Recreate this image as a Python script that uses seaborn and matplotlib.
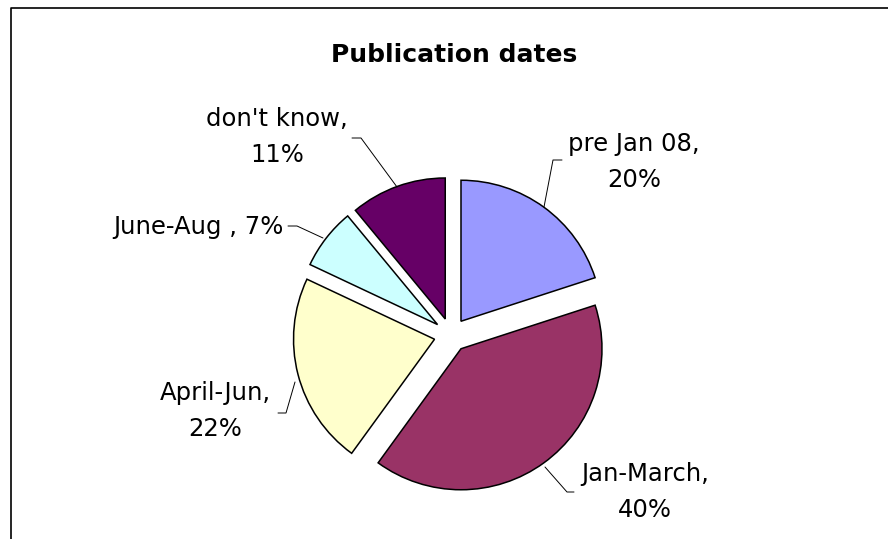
import matplotlib
matplotlib.use("Agg")
import matplotlib.pyplot as plt
import seaborn as sns

# ---- data ----
categories = ["pre Jan 08", "Jan-March", "April-Jun", "June-Aug ", "don't know"]
values = [20, 40, 22, 7, 11]
colors = ["#9999FF", "#993366", "#FFFFCC", "#CCFFFF", "#660066"]
title = "Publication dates"

sns.set_theme(style="white")
plt.rcParams["font.family"] = ["DejaVu Sans"]

W, H = 888, 539
fig = plt.figure(figsize=(W / 100, H / 100), dpi=100)
ax = fig.add_axes([0, 0, 1, 1])
ax.set_xlim(0, W)
ax.set_ylim(0, H)
ax.axis("off")

def Y(y):  # screen y -> data y
    return H - y

cx, cy, R = 451, Y(335), 141
# explode in matplotlib is in data units (radius-relative only when radius=1)
wedges, _ = ax.pie(values, colors=colors, startangle=90, counterclock=False,
                   explode=[17] * len(values), center=(cx, cy), radius=R,
                   wedgeprops=dict(edgecolor="black", linewidth=1.1),
                   frame=True)
ax.set_xlim(0, W)
ax.set_ylim(0, H)
ax.set_aspect("equal")
ax.axis("off")

# frame (only top/left visible in the crop)
ax.plot([11, 11, W + 5], [Y(H + 5), Y(8), Y(8)], color="black", lw=1.2,
        solid_capstyle="butt", clip_on=False)

ax.text(454, Y(55), title, ha="center", va="center", fontsize=18,
        fontweight="bold", color="black")

# labels: (x, y of block center) and leader polylines, in screen pixels
label_layout = {
    "pre Jan 08": ((634, 162), [(562, 160), (553, 160), (544, 207)]),
    "Jan-March": ((645, 492), [(574, 492), (567, 492), (545, 467)]),
    "April-Jun": ((215, 411), [(278, 413), (286, 413), (295, 382)]),
    "June-Aug ": ((198, 227), [(288, 226), (297, 226), (323, 238)]),
    "don't know": ((277, 137), [(352, 138), (361, 138), (397, 187)]),
}

for cat, val in zip(categories, values):
    (tx, ty), pts = label_layout[cat]
    if cat.startswith("June"):
        txt = f"{cat}, {val}%"
    else:
        txt = f"{cat},\n{val}%"
    ax.text(tx, Y(ty), txt, ha="center", va="center", multialignment="center",
            fontsize=17.5, linespacing=1.6, color="black")
    ax.plot([p[0] for p in pts], [Y(p[1]) for p in pts], color="black", lw=0.7)

fig.savefig("out.png", dpi=100, facecolor="white")
